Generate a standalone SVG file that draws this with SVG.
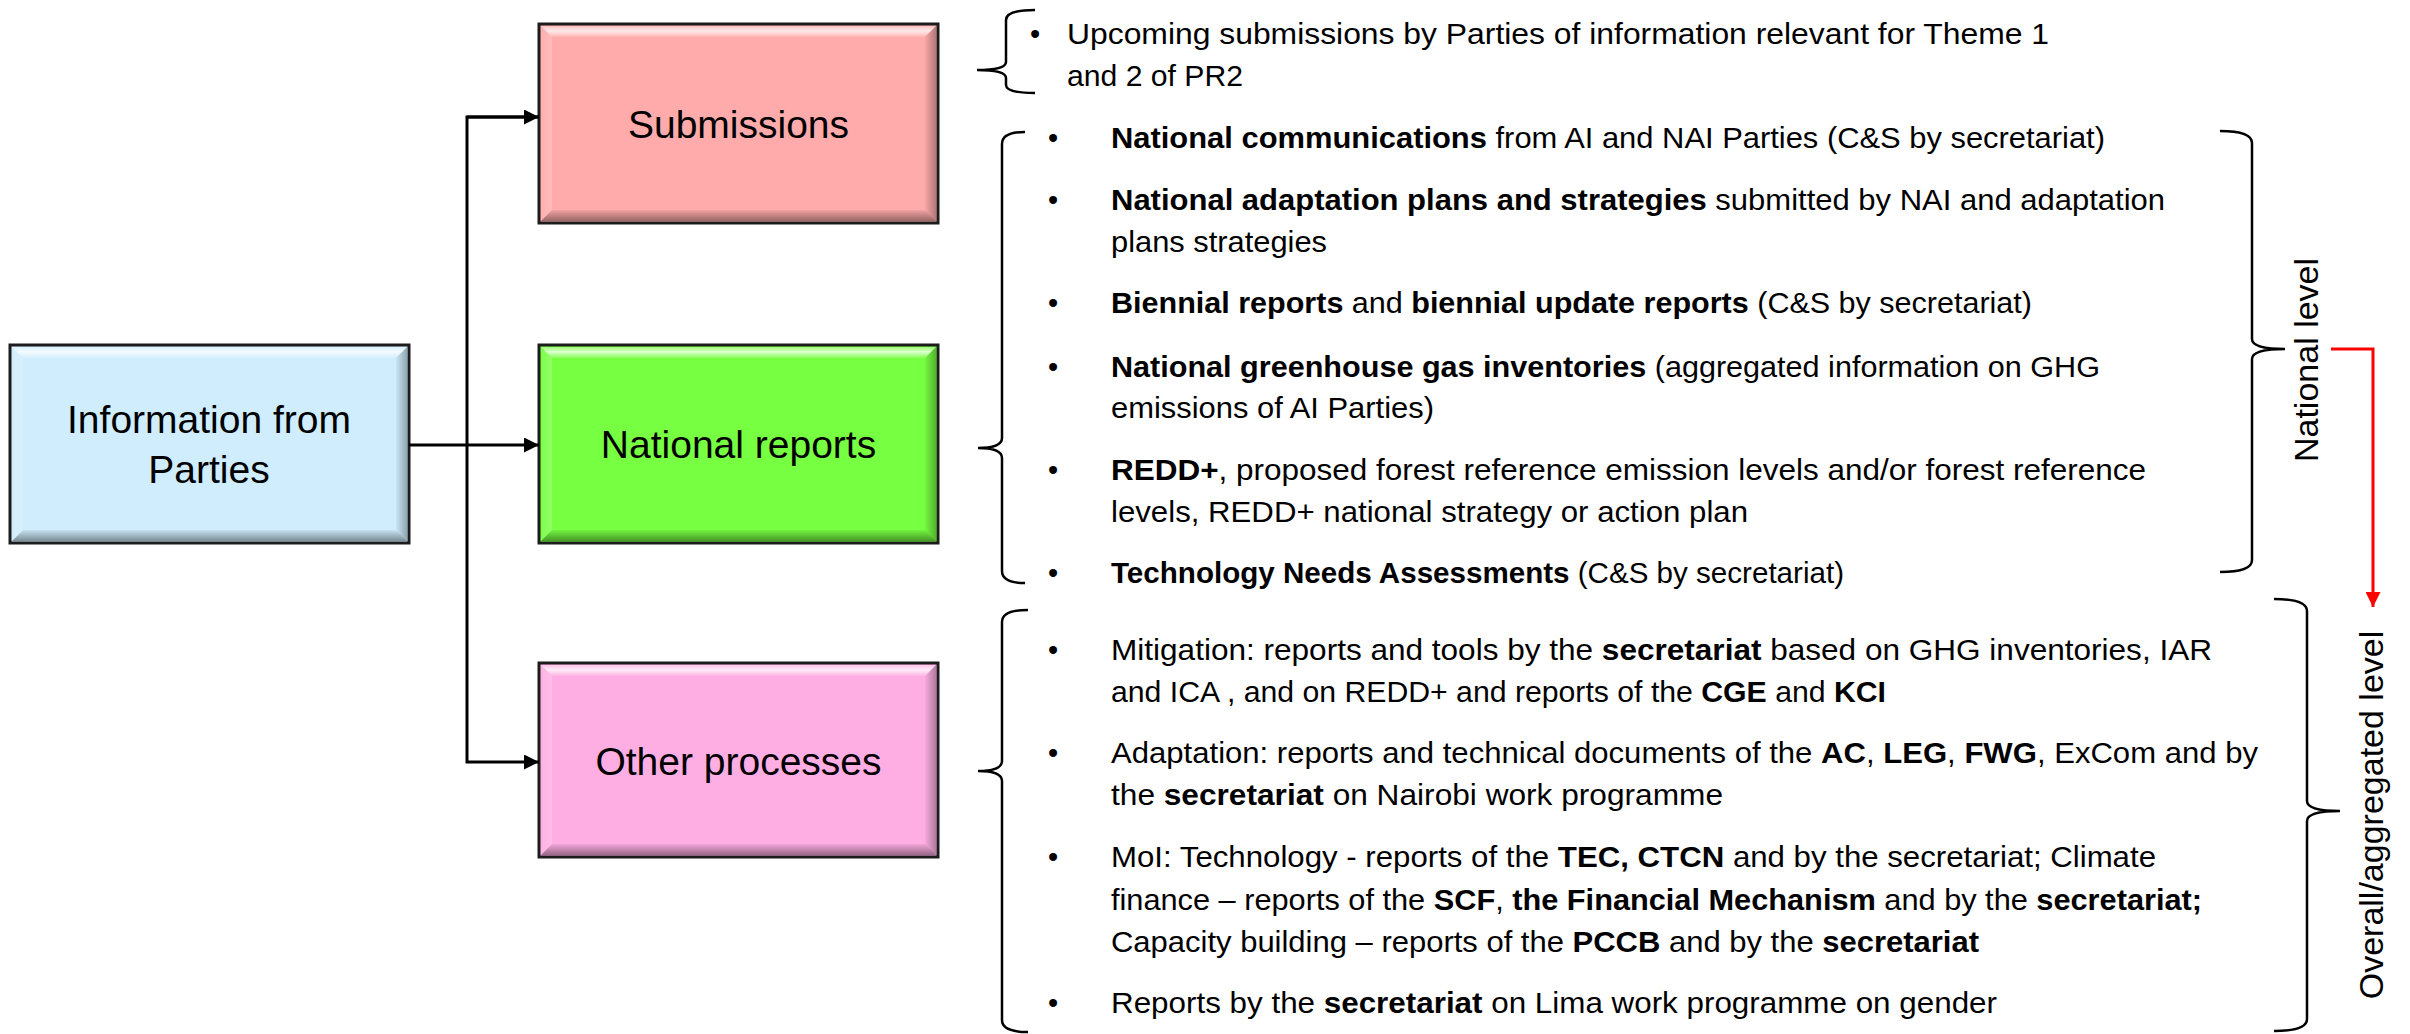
<svg xmlns="http://www.w3.org/2000/svg" width="2410" height="1034" viewBox="0 0 2410 1034">
<style>
.box{stroke:#1c1c1c;stroke-width:3}
.lbl{font-family:"Liberation Sans",Arial,sans-serif;font-size:39px;fill:#000;text-anchor:middle}
.t{font-family:"Liberation Sans",Arial,sans-serif;font-size:29px;fill:#000}
.b{font-weight:bold}
.rot{font-family:"Liberation Sans",Arial,sans-serif;font-size:34px;fill:#000;text-anchor:middle}
.brace{fill:none;stroke:#000;stroke-width:2.5}
.conn{fill:none;stroke:#000;stroke-width:3}
.red{fill:none;stroke:#ff0000;stroke-width:3}
</style>
<defs>
<marker id="ah" viewBox="0 0 10 10" refX="10" refY="5" markerUnits="userSpaceOnUse" markerWidth="16" markerHeight="15" orient="auto"><path d="M0,0 L10,5 L0,10 z" fill="#000"/></marker>
<marker id="ahr" viewBox="0 0 10 10" refX="10" refY="5" markerUnits="userSpaceOnUse" markerWidth="15" markerHeight="15" orient="auto"><path d="M0,0 L10,5 L0,10 z" fill="#ff0000"/></marker>
<linearGradient id="gTop" x1="0" y1="0" x2="0" y2="1"><stop offset="0" stop-color="#fff" stop-opacity="0.25"/><stop offset="0.45" stop-color="#fff" stop-opacity="0.75"/><stop offset="1" stop-color="#fff" stop-opacity="0.1"/></linearGradient>
<linearGradient id="gBot" x1="0" y1="0" x2="0" y2="1"><stop offset="0" stop-color="#000" stop-opacity="0.05"/><stop offset="1" stop-color="#000" stop-opacity="0.4"/></linearGradient>
<linearGradient id="gRight" x1="0" y1="0" x2="1" y2="0"><stop offset="0" stop-color="#000" stop-opacity="0.03"/><stop offset="1" stop-color="#000" stop-opacity="0.3"/></linearGradient>
<linearGradient id="gLeft" x1="0" y1="0" x2="1" y2="0"><stop offset="0" stop-color="#fff" stop-opacity="0.05"/><stop offset="1" stop-color="#fff" stop-opacity="0.2"/></linearGradient>
</defs>

<g id="node-info">
<rect class="box" x="10" y="345" width="399" height="198" fill="#cfedfd"/>
<polygon points="12,347 407,347 396,358 23,358" fill="url(#gTop)"/>
<polygon points="12,541 407,541 396,530 23,530" fill="url(#gBot)"/>
<polygon points="407,347 407,541 396,530 396,358" fill="url(#gRight)"/>
<polygon points="12,347 12,541 23,530 23,358" fill="url(#gLeft)"/>
<text class="lbl" x="209" y="433">Information from</text>
<text class="lbl" x="209" y="483">Parties</text>
</g>

<g id="node-submissions">
<rect class="box" x="539" y="24" width="399" height="199" fill="#ffabab"/>
<polygon points="541,26 936,26 925,37 552,37" fill="url(#gTop)"/>
<polygon points="541,221 936,221 925,210 552,210" fill="url(#gBot)"/>
<polygon points="936,26 936,221 925,210 925,37" fill="url(#gRight)"/>
<polygon points="541,26 541,221 552,210 552,37" fill="url(#gLeft)"/>
<text class="lbl" x="738.5" y="138">Submissions</text>
</g>

<g id="node-national">
<rect class="box" x="539" y="345" width="399" height="198" fill="#77ff42"/>
<polygon points="541,347 936,347 925,358 552,358" fill="url(#gTop)"/>
<polygon points="541,541 936,541 925,530 552,530" fill="url(#gBot)"/>
<polygon points="936,347 936,541 925,530 925,358" fill="url(#gRight)"/>
<polygon points="541,347 541,541 552,530 552,358" fill="url(#gLeft)"/>
<text class="lbl" x="738.5" y="458">National reports</text>
</g>

<g id="node-other">
<rect class="box" x="539" y="663" width="399" height="194" fill="#ffaee3"/>
<polygon points="541,665 936,665 925,676 552,676" fill="url(#gTop)"/>
<polygon points="541,855 936,855 925,844 552,844" fill="url(#gBot)"/>
<polygon points="936,665 936,855 925,844 925,676" fill="url(#gRight)"/>
<polygon points="541,665 541,855 552,844 552,676" fill="url(#gLeft)"/>
<text class="lbl" x="738.5" y="775">Other processes</text>
</g>

<g id="connectors">
<path class="conn" d="M409,445 H539" marker-end="url(#ah)"/>
<path class="conn" d="M539,117 H467 V762 H539" marker-end="url(#ah)"/>
<path class="conn" d="M467,117 H539" marker-end="url(#ah)"/>
<path class="red" d="M2331,349 H2373 V607" marker-end="url(#ahr)"/>
</g>

<g id="braces">
<path class="brace" d="M1035,10 Q1006,10 1006,20 L1006,62 Q1006,70 977,70 Q1006,70 1006,78 L1006,85 Q1006,93 1035,93"/>
<path class="brace" d="M1025,132 Q1002,132 1002,144 L1002,438 Q1002,448 978,448 Q1002,448 1002,458 L1002,571 Q1002,583 1025,583"/>
<path class="brace" d="M1028,610 Q1002,610 1002,622 L1002,761 Q1002,771 978,771 Q1002,771 1002,781 L1002,1020 Q1002,1032 1028,1032"/>
<path class="brace" d="M2220,131 Q2252,131 2252,143 L2252,339 Q2252,349 2285,349 Q2252,349 2252,359 L2252,560 Q2252,572 2220,572"/>
<path class="brace" d="M2274,599 Q2307,599 2307,611 L2307,801 Q2307,811 2340,811 Q2307,811 2307,821 L2307,1019 Q2307,1031 2274,1031"/>
</g>

<g id="list-submissions">
<text class="t" x="1030" y="44">•</text>
<text class="t" x="1067" y="44" textLength="982" lengthAdjust="spacingAndGlyphs">Upcoming submissions by Parties of information relevant for Theme 1</text>
<text class="t" x="1067" y="86" textLength="176" lengthAdjust="spacingAndGlyphs">and 2 of PR2</text>
</g>

<g id="list-national">
<text class="t" x="1048" y="148">•</text>
<text class="t" x="1111" y="148" textLength="994" lengthAdjust="spacingAndGlyphs"><tspan class="b">National communications</tspan> from AI and NAI Parties (C&amp;S by secretariat)</text>
<text class="t" x="1048" y="210">•</text>
<text class="t" x="1111" y="210" textLength="1054" lengthAdjust="spacingAndGlyphs"><tspan class="b">National adaptation plans and strategies</tspan> submitted by NAI and adaptation</text>
<text class="t" x="1111" y="252" textLength="216" lengthAdjust="spacingAndGlyphs">plans strategies</text>
<text class="t" x="1048" y="313">•</text>
<text class="t" x="1111" y="313" textLength="921" lengthAdjust="spacingAndGlyphs"><tspan class="b">Biennial reports</tspan> and <tspan class="b">biennial update reports</tspan> (C&amp;S by secretariat)</text>
<text class="t" x="1048" y="377">•</text>
<text class="t" x="1111" y="377" textLength="989" lengthAdjust="spacingAndGlyphs"><tspan class="b">National greenhouse gas inventories</tspan> (aggregated information on GHG</text>
<text class="t" x="1111" y="418" textLength="323" lengthAdjust="spacingAndGlyphs">emissions of AI Parties)</text>
<text class="t" x="1048" y="480">•</text>
<text class="t" x="1111" y="480" textLength="1035" lengthAdjust="spacingAndGlyphs"><tspan class="b">REDD+</tspan>, proposed forest reference emission levels and/or forest reference</text>
<text class="t" x="1111" y="522" textLength="637" lengthAdjust="spacingAndGlyphs">levels, REDD+ national strategy or action plan</text>
<text class="t" x="1048" y="583">•</text>
<text class="t" x="1111" y="583" textLength="733" lengthAdjust="spacingAndGlyphs"><tspan class="b">Technology Needs Assessments</tspan> (C&amp;S by secretariat)</text>
</g>

<g id="list-other">
<text class="t" x="1048" y="660">•</text>
<text class="t" x="1111" y="660" textLength="1101" lengthAdjust="spacingAndGlyphs">Mitigation: reports and tools by the <tspan class="b">secretariat</tspan> based on GHG inventories, IAR</text>
<text class="t" x="1111" y="702" textLength="775" lengthAdjust="spacingAndGlyphs">and ICA , and on REDD+ and reports of the <tspan class="b">CGE</tspan> and <tspan class="b">KCI</tspan></text>
<text class="t" x="1048" y="763">•</text>
<text class="t" x="1111" y="763" textLength="1147" lengthAdjust="spacingAndGlyphs">Adaptation: reports and technical documents of the <tspan class="b">AC</tspan>, <tspan class="b">LEG</tspan>, <tspan class="b">FWG</tspan>, ExCom and by</text>
<text class="t" x="1111" y="805" textLength="612" lengthAdjust="spacingAndGlyphs">the <tspan class="b">secretariat</tspan> on Nairobi work programme</text>
<text class="t" x="1048" y="867">•</text>
<text class="t" x="1111" y="867" textLength="1045" lengthAdjust="spacingAndGlyphs">MoI: Technology - reports of the <tspan class="b">TEC, CTCN</tspan> and by the secretariat; Climate</text>
<text class="t" x="1111" y="910" textLength="1091" lengthAdjust="spacingAndGlyphs">finance – reports of the <tspan class="b">SCF</tspan>, <tspan class="b">the Financial Mechanism</tspan> and by the <tspan class="b">secretariat;</tspan></text>
<text class="t" x="1111" y="952" textLength="868" lengthAdjust="spacingAndGlyphs">Capacity building – reports of the <tspan class="b">PCCB</tspan> and by the <tspan class="b">secretariat</tspan></text>
<text class="t" x="1048" y="1013">•</text>
<text class="t" x="1111" y="1013" textLength="886" lengthAdjust="spacingAndGlyphs">Reports by the <tspan class="b">secretariat</tspan> on Lima work programme on gender</text>
</g>

<g id="level-labels">
<text class="rot" transform="translate(2318,360) rotate(-90)">National level</text>
<text class="rot" transform="translate(2383,815) rotate(-90)">Overall/aggregated level</text>
</g>
</svg>
